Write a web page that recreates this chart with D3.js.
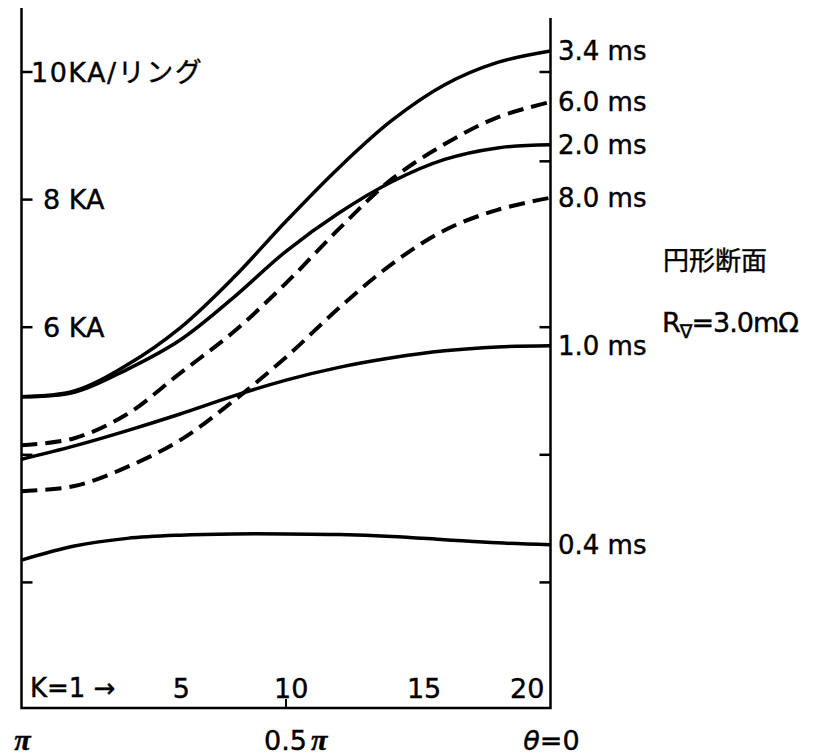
<!DOCTYPE html>
<html>
<head>
<meta charset="utf-8">
<script src="https://cdn.jsdelivr.net/npm/d3@7"></script>
<style>
  body { margin: 0; background: #fff; }
  text { font-family: "DejaVu Sans", "Noto Sans CJK JP", sans-serif; fill: #000; stroke: #000; stroke-width: 0.4px; }
</style>
</head>
<body>
<div id="chart"></div>
<script>
// theta / pi along the bottom, from pi (left) to 0 (right)
const thetaPi = [1.0, 0.9, 0.8, 0.7, 0.6, 0.5, 0.4, 0.3, 0.2, 0.1, 0.0];

// coil current per ring (KA), one list per time
const ms34 = [4.91, 5.00, 5.41, 5.99, 6.77, 7.66, 8.50, 9.24, 9.80, 10.15, 10.33];
const ms60 = [4.15, 4.26, 4.64, 5.28, 5.92, 6.69, 7.54, 8.32, 8.87, 9.29, 9.53];
const ms20 = [4.91, 4.98, 5.34, 5.80, 6.46, 7.19, 7.79, 8.28, 8.63, 8.81, 8.86];
const ms80 = [3.43, 3.51, 3.81, 4.23, 4.84, 5.53, 6.30, 6.99, 7.52, 7.84, 8.03];
const ms10 = [3.93, 4.14, 4.38, 4.64, 4.92, 5.17, 5.37, 5.52, 5.63, 5.69, 5.71];
const ms04 = [2.35, 2.57, 2.69, 2.74, 2.76, 2.76, 2.75, 2.72, 2.67, 2.62, 2.59];

const seriesNames = ["3.4 ms", "6.0 ms", "2.0 ms", "8.0 ms", "1.0 ms", "0.4 ms"];
const seriesValues = [ms34, ms60, ms20, ms80, ms10, ms04];
const seriesDashed = [false, true, false, true, false, false];

// axis ticks
const leftTicks = [10, 8, 6, 4, 2];
const leftTickLabels = ["10KA/リング", "8 KA", "6 KA", "", ""];
const rightTicks = [10, 8.6, 6, 4, 2];
const kTicks = ["5", "10", "15", "20"];
const kTickTheta = [0.698, 0.49, 0.239, 0.044];
const thetaTicks = [1, 0.5, 0];

const width = 813, height = 755;
const bottomY = 708;

const xScale = d3.scaleLinear().domain([1, 0]).range([21.5, 550.5]);
const yScale = d3.scaleLinear().domain([0, 10]).range([710, 72]);

const svg = d3.select('#chart')
  .append('svg')
  .attr('width', width)
  .attr('height', height);

// frame: left, bottom, right
svg.append('path')
  .attr('d', `M${xScale(1)},8 V${bottomY} H${xScale(0)} V18`)
  .attr('fill', 'none')
  .attr('stroke', '#000')
  .attr('stroke-width', 2.5);

// left ticks
svg.selectAll('.ltick')
  .data(leftTicks)
  .enter().append('line')
  .attr('x1', xScale(1))
  .attr('x2', xScale(1) + 11)
  .attr('y1', d => yScale(d))
  .attr('y2', d => yScale(d))
  .attr('stroke', '#000')
  .attr('stroke-width', 2.5);

svg.selectAll('.llabel')
  .data(leftTicks)
  .enter().append('text')
  .attr('x', (d, i) => i === 0 ? 31 : 43)
  .attr('y', d => yScale(d))
  .attr('dy', '0.36em')
  .style('font-size', '27px')
  .style('letter-spacing', (d, i) => i === 0 ? '1.5px' : '0px')
  .text((d, i) => leftTickLabels[i]);

// right ticks
svg.selectAll('.rtick')
  .data(rightTicks)
  .enter().append('line')
  .attr('x1', xScale(0) - 11)
  .attr('x2', xScale(0))
  .attr('y1', d => yScale(d))
  .attr('y2', d => yScale(d))
  .attr('stroke', '#000')
  .attr('stroke-width', 2.5);

// small tick at 0.5 pi
svg.append('line')
  .attr('x1', xScale(0.5))
  .attr('x2', xScale(0.5))
  .attr('y1', bottomY)
  .attr('y2', bottomY - 9)
  .attr('stroke', '#000')
  .attr('stroke-width', 2);

// curves
const line = d3.line()
  .x((d, i) => xScale(thetaPi[i]))
  .y(d => yScale(d))
  .curve(d3.curveCatmullRom.alpha(0.5));

svg.selectAll('.curve')
  .data(seriesValues)
  .enter().append('path')
  .attr('d', line)
  .attr('fill', 'none')
  .attr('stroke', '#000')
  .attr('stroke-width', (d, i) => seriesDashed[i] ? 4 : 3.5)
  .attr('stroke-dasharray', (d, i) => seriesDashed[i] ? '16,8' : null);

// curve labels on the right
svg.selectAll('.clabel')
  .data(seriesValues)
  .enter().append('text')
  .attr('x', 558)
  .attr('y', d => yScale(d[d.length - 1]))
  .attr('dy', '0.36em')
  .style('font-size', '26px')
  .text((d, i) => seriesNames[i]);

// K numbers inside the frame
svg.append('text')
  .attr('x', 30)
  .attr('y', 688)
  .attr('dy', '0.36em')
  .style('font-size', '26px')
  .text('K=1 →');

svg.selectAll('.klabel')
  .data(kTicks)
  .enter().append('text')
  .attr('x', (d, i) => xScale(kTickTheta[i]))
  .attr('y', 688)
  .attr('dy', '0.36em')
  .attr('text-anchor', 'middle')
  .style('font-size', '27px')
  .text(d => d);

// theta labels under the frame
const thetaG = svg.selectAll('.tlabel')
  .data(thetaTicks)
  .enter().append('text')
  .attr('x', d => d === 0.5 ? xScale(d) - 22 : xScale(d) + 1)
  .attr('y', 740)
  .attr('dy', '0.36em')
  .attr('text-anchor', d => d === 0.5 ? 'start' : 'middle')
  .style('font-size', '27px');

thetaG.filter(d => d === 1).append('tspan')
  .style('font-family', '"Liberation Serif", serif')
  .style('font-style', 'italic')
  .style('font-weight', 'bold')
  .style('font-size', '30px')
  .text('π');

thetaG.filter(d => d === 0.5).append('tspan').text('0.5');
thetaG.filter(d => d === 0.5).append('tspan')
  .attr('dx', 4)
  .style('font-family', '"Liberation Serif", serif')
  .style('font-style', 'italic')
  .style('font-weight', 'bold')
  .style('font-size', '30px')
  .text('π');

thetaG.filter(d => d === 0).append('tspan')
  .style('font-style', 'italic')
  .text('θ');
thetaG.filter(d => d === 0).append('tspan').text('=0');

// side note
svg.append('text')
  .attr('x', 663)
  .attr('y', 261)
  .attr('dy', '0.36em')
  .style('font-size', '26px')
  .style('font-family', '"Noto Sans CJK JP", sans-serif')
  .text('円形断面');

const rv = svg.append('text')
  .attr('x', 662)
  .attr('y', 322)
  .attr('dy', '0.36em')
  .style('font-size', '27px')
  .style('letter-spacing', '-1px');
rv.append('tspan').text('R');
rv.append('tspan')
  .attr('dy', 6)
  .style('font-size', '19px')
  .text('∇');
rv.append('tspan')
  .attr('dy', -6)
  .text('=3.0mΩ');
</script>
</body>
</html>
